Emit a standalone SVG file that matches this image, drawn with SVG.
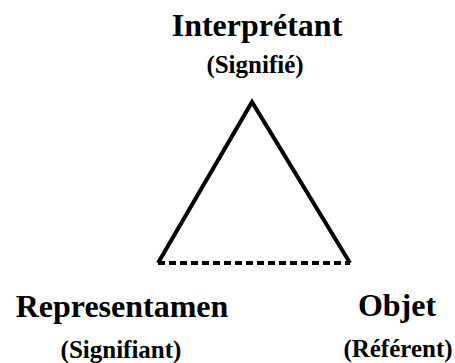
<svg xmlns="http://www.w3.org/2000/svg" width="455" height="363" viewBox="0 0 455 363">
<style>
.t{font-family:"Liberation Serif","Times New Roman",serif;font-weight:bold;fill:#000;text-anchor:middle}
.big{font-size:32px}
.small{font-size:25px}
.edge{fill:none;stroke:#000;stroke-width:4}
</style>
<rect width="455" height="363" fill="#fff"/>
<g id="connectors">
<polyline class="edge" points="158,263 252,102 350,263" stroke-linejoin="miter"/>
<line class="edge" x1="158" y1="263" x2="350" y2="263" stroke-dasharray="7,4"/>
</g>
<g id="interpretant">
<text class="t big" x="257" y="36">Interprétant</text>
<text class="t small" x="255" y="73">(Signifié)</text>
</g>
<g id="representamen">
<text class="t big" x="122" y="317">Representamen</text>
<text class="t small" x="121" y="358">(Signifiant)</text>
</g>
<g id="objet">
<text class="t big" x="397" y="316">Objet</text>
<text class="t small" x="398" y="357">(Référent)</text>
</g>
</svg>
